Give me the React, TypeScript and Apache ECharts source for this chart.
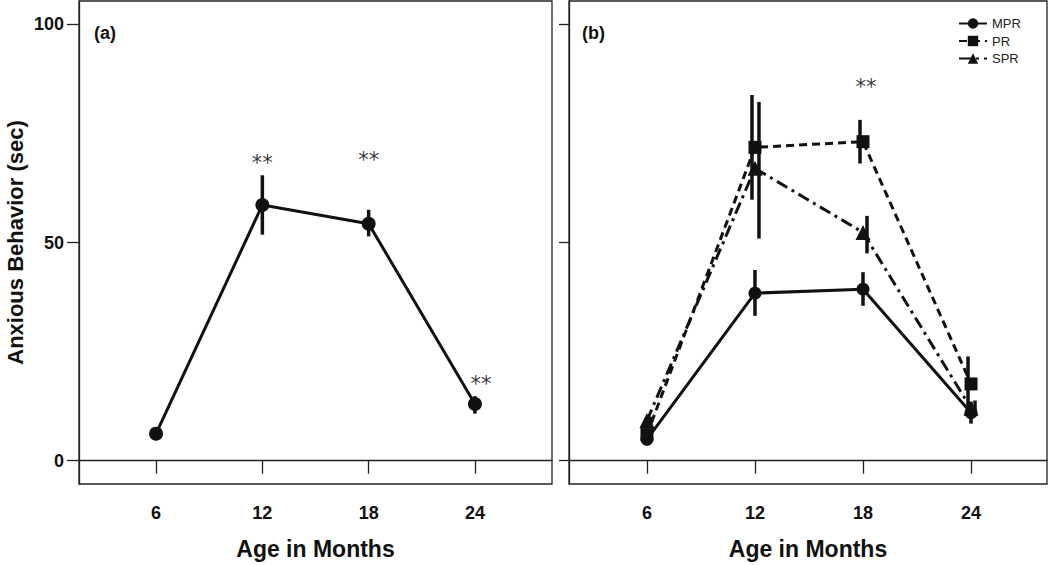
import React, { useEffect, useRef } from "react";
import * as echarts from "echarts";

const ages = [6, 12, 18, 24];
const xTicks = [6, 12, 18, 24];
const yTicks = [0, 50, 100];

// Panel (a): all infants
const allMean = [6.2, 58.6, 54.3, 13.0];
const allLow = [5.6, 51.8, 51.4, 10.8];
const allHigh = [6.8, 65.4, 57.5, 14.8];

// Panel (b): groups
const mprMean = [4.9, 38.4, 39.3, 11.0];
const mprLow = [4.0, 33.2, 35.5, 8.5];
const mprHigh = [5.8, 43.7, 43.2, 13.5];
const prMean = [6.0, 71.8, 73.1, 17.6];
const prLow = [5.0, 59.8, 68.1, 11.3];
const prHigh = [7.0, 83.8, 78.1, 23.9];
const sprMean = [9.2, 67.0, 52.3, 12.0];
const sprLow = [8.3, 50.9, 47.5, 10.2];
const sprHigh = [10.1, 82.2, 56.1, 13.8];

// significance marks
const sigAAges = [12, 18, 24];
const sigAY = [68.1, 69.0, 17.6];
const sigBAges = [18];
const sigBY = [85.6];

const FONT = "Liberation Sans, Arial, Helvetica, sans-serif";
const INK = "#111";

function errorBars(idx: number, low: number[], high: number[], offset: number) {
  return {
    type: "custom",
    xAxisIndex: idx,
    yAxisIndex: idx,
    silent: true,
    z: 4,
    data: ages.map((a, i) => [a, low[i], high[i]]),
    encode: { x: 0, y: [1, 2] },
    renderItem: (params: any, api: any) => {
      const x = api.value(0);
      const p1 = api.coord([x, api.value(1)]);
      const p2 = api.coord([x, api.value(2)]);
      return {
        type: "line",
        shape: { x1: p1[0] + offset, y1: p1[1], x2: p2[0] + offset, y2: p2[1] },
        style: { stroke: INK, lineWidth: 3.5 },
      };
    },
  };
}

function sigSeries(idx: number, xs: number[], ys: number[], offsets: number[]) {
  return {
    type: "scatter",
    xAxisIndex: idx,
    yAxisIndex: idx,
    silent: true,
    symbolSize: 1,
    itemStyle: { color: "transparent" },
    z: 6,
    data: xs.map((x, i) => ({
      value: [x, ys[i]],
      label: { offset: [offsets[i] || 0, 0] },
    })),
    label: {
      show: true,
      position: "inside",
      formatter: "**",
      color: "#000",
      fontFamily: "DejaVu Sans, sans-serif",
      fontSize: 21,
      fontWeight: "normal",
    },
  };
}

function xAxisDef(idx: number, min: number, max: number) {
  return {
    type: "value",
    gridIndex: idx,
    min,
    max,
    name: "Age in Months",
    nameLocation: "middle",
    nameGap: 53,
    nameTextStyle: { fontFamily: FONT, fontSize: 23, fontWeight: "bold", color: INK },
    axisLine: { show: true, lineStyle: { color: "#222", width: 1.3 } },
    axisTick: { show: true, length: 13, customValues: xTicks, lineStyle: { color: "#222", width: 1.3 } },
    axisLabel: {
      show: true,
      customValues: xTicks,
      margin: 20,
      fontFamily: FONT,
      fontSize: 18,
      fontWeight: "bold",
      color: INK,
    },
    splitLine: { show: false },
  };
}

function yAxisDef(idx: number, showLabels: boolean, tickLen: number) {
  return {
    type: "value",
    gridIndex: idx,
    min: -5.33,
    max: 105.33,
    name: showLabels ? "Anxious Behavior (sec)" : "",
    nameLocation: "middle",
    nameGap: 53,
    nameRotate: 90,
    nameTextStyle: { fontFamily: FONT, fontSize: 22, fontWeight: "bold", color: INK },
    axisLine: { show: true, lineStyle: { color: "#222", width: 1.3 } },
    axisTick: { show: true, length: tickLen, customValues: yTicks, lineStyle: { color: "#222", width: 1.3 } },
    axisLabel: {
      show: showLabels,
      customValues: yTicks,
      margin: 15,
      fontFamily: FONT,
      fontSize: 18,
      fontWeight: "bold",
      color: INK,
    },
    splitLine: { show: false },
  };
}

export default function App() {
  const ref = useRef<HTMLDivElement>(null);

  useEffect(() => {
    if (!ref.current) return;
    const chart = echarts.init(ref.current, undefined, { renderer: "svg" });
    const option: any = {
      animation: false,
      backgroundColor: "#fff",
      title: [
        {
          text: "(a)",
          left: 94,
          top: 24,
          padding: 0,
          textStyle: { fontFamily: FONT, fontSize: 18, fontWeight: "bold", color: INK },
        },
        {
          text: "(b)",
          left: 582,
          top: 24,
          padding: 0,
          textStyle: { fontFamily: FONT, fontSize: 18, fontWeight: "bold", color: INK },
        },
      ],
      legend: {
        data: ["MPR", "PR", "SPR"],
        orient: "vertical",
        left: 958,
        top: 17,
        itemWidth: 28,
        itemHeight: 13,
        itemGap: 4.5,
        padding: 0,
        textStyle: { fontFamily: FONT, fontSize: 13, color: "#222" },
      },
      grid: [
        { left: 79, top: 1, width: 473, height: 488, show: true, borderColor: "#222", borderWidth: 1.3, backgroundColor: "transparent" },
        { left: 569, top: 1, width: 478, height: 488, show: true, borderColor: "#222", borderWidth: 1.3, backgroundColor: "transparent" },
      ],
      xAxis: [xAxisDef(0, 1.65, 28.35), xAxisDef(1, 1.67, 28.22)],
      yAxis: [yAxisDef(0, true, 12), yAxisDef(1, false, 10)],
      series: [
        errorBars(0, allLow, allHigh, 0),
        {
          type: "line",
          name: "All",
          xAxisIndex: 0,
          yAxisIndex: 0,
          data: ages.map((a, i) => [a, allMean[i]]),
          symbol: "circle",
          symbolSize: 14,
          lineStyle: { color: INK, width: 3 },
          itemStyle: { color: INK },
          z: 3,
        },
        sigSeries(0, sigAAges, sigAY, [0, 0, 6]),
        errorBars(1, mprLow, mprHigh, 0),
        errorBars(1, prLow, prHigh, -3),
        errorBars(1, sprLow, sprHigh, 4),
        {
          type: "line",
          name: "MPR",
          xAxisIndex: 1,
          yAxisIndex: 1,
          data: ages.map((a, i) => [a, mprMean[i]]),
          symbol: "circle",
          symbolSize: 13,
          lineStyle: { color: INK, width: 3, type: "solid" },
          itemStyle: { color: INK },
          z: 3,
        },
        {
          type: "line",
          name: "PR",
          xAxisIndex: 1,
          yAxisIndex: 1,
          data: ages.map((a, i) => [a, prMean[i]]),
          symbol: "rect",
          symbolSize: 13,
          lineStyle: { color: INK, width: 3, type: [8, 5] },
          itemStyle: { color: INK },
          z: 3,
        },
        {
          type: "line",
          name: "SPR",
          xAxisIndex: 1,
          yAxisIndex: 1,
          data: ages.map((a, i) => [a, sprMean[i]]),
          symbol: "triangle",
          symbolSize: 15,
          lineStyle: { color: INK, width: 3, type: [12, 5, 3, 5] },
          itemStyle: { color: INK },
          z: 3,
        },
        sigSeries(1, sigBAges, sigBY, [3]),
      ],
    };
    chart.setOption(option);
    return () => chart.dispose();
  }, []);

  return (
    <div
      ref={ref}
      style={{ position: "fixed", left: 0, top: 0, width: 1050, height: 565, background: "#fff" }}
    />
  );
}
